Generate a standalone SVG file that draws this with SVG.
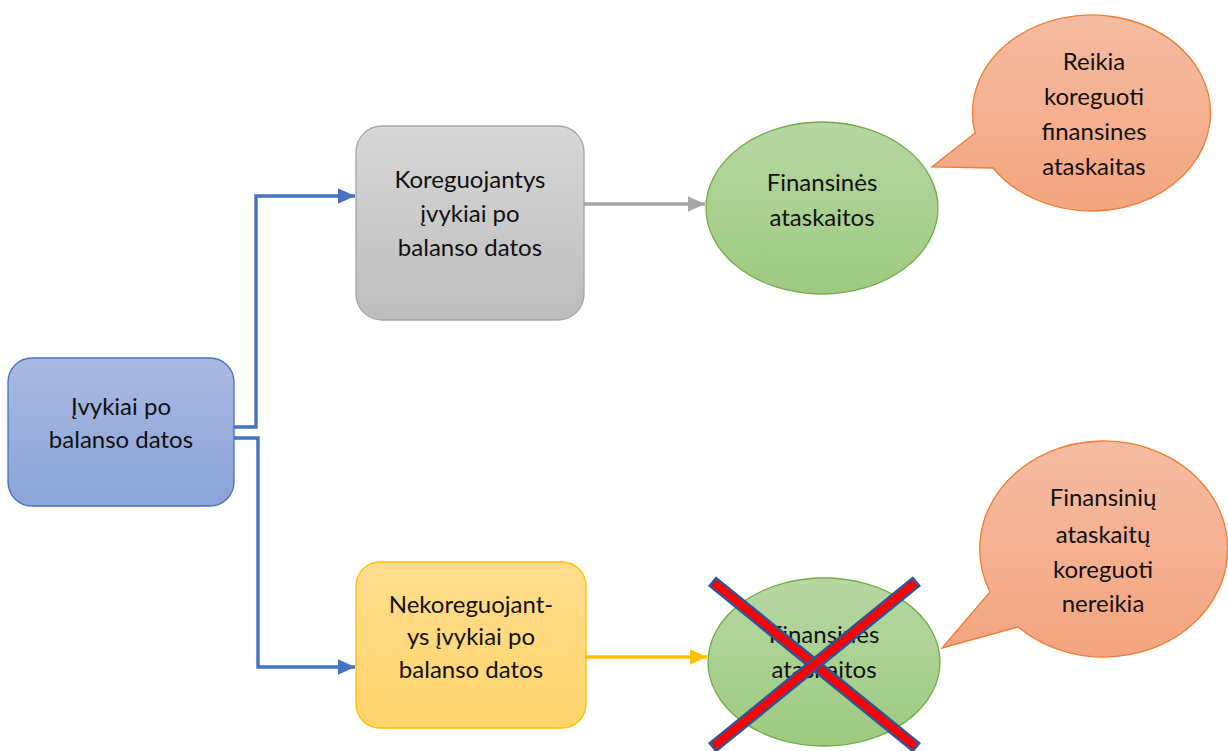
<svg xmlns="http://www.w3.org/2000/svg" width="1228" height="751" viewBox="0 0 1228 751">
  <defs>
    <linearGradient id="gBlue" x1="0" y1="0" x2="0" y2="1">
      <stop offset="0" stop-color="#AAB9E1"/>
      <stop offset="1" stop-color="#8AA3D9"/>
    </linearGradient>
    <linearGradient id="gGray" x1="0" y1="0" x2="0" y2="1">
      <stop offset="0" stop-color="#D7D7D7"/>
      <stop offset="1" stop-color="#BDBDBD"/>
    </linearGradient>
    <linearGradient id="gYellow" x1="0" y1="0" x2="0" y2="1">
      <stop offset="0" stop-color="#FFDD8E"/>
      <stop offset="1" stop-color="#FFD46A"/>
    </linearGradient>
    <linearGradient id="gGreen" x1="0" y1="0" x2="0" y2="1">
      <stop offset="0" stop-color="#B7D7A3"/>
      <stop offset="1" stop-color="#9DCA80"/>
    </linearGradient>
    <linearGradient id="gOrange" x1="0" y1="0" x2="0" y2="1">
      <stop offset="0" stop-color="#F5BCA2"/>
      <stop offset="1" stop-color="#F4A47F"/>
    </linearGradient>
    <marker id="arrBlue" markerWidth="5" markerHeight="4.6" refX="5" refY="2.3" orient="auto" markerUnits="strokeWidth">
      <path d="M0,0 L5,2.3 L0,4.6 Z" fill="#4472C4"/>
    </marker>
    <marker id="arrGray" markerWidth="5" markerHeight="4.6" refX="5" refY="2.3" orient="auto" markerUnits="strokeWidth">
      <path d="M0,0 L5,2.3 L0,4.6 Z" fill="#A5A5A5"/>
    </marker>
    <marker id="arrYellow" markerWidth="5" markerHeight="4.6" refX="5" refY="2.3" orient="auto" markerUnits="strokeWidth">
      <path d="M0,0 L5,2.3 L0,4.6 Z" fill="#FFC000"/>
    </marker>
  </defs>
  <style>
    text { font-family: Lato, "Open Sans", "Liberation Sans", sans-serif; font-size: 24px; fill: #111; text-anchor: middle; }
    .conn { fill: none; stroke-width: 3.4; }
    .cross { fill: #FF0000; stroke: #2F5597; stroke-width: 2.5; stroke-linejoin: miter; }
  </style>
  <rect width="1228" height="751" fill="#FFFFFF"/>

  <g id="connectors">
    <path class="conn" d="M234,427 H256 V196 H355" stroke="#4472C4" marker-end="url(#arrBlue)"/>
    <path class="conn" d="M234,438 H258 V667 H355" stroke="#4472C4" marker-end="url(#arrBlue)"/>
    <path class="conn" d="M584,204 H705" stroke="#A5A5A5" marker-end="url(#arrGray)"/>
    <path class="conn" d="M586,657 H707" stroke="#FFC000" marker-end="url(#arrYellow)"/>
  </g>

  <g id="events">
    <rect x="8" y="358" width="226" height="148" rx="24" fill="url(#gBlue)" stroke="#4472C4" stroke-width="1.3"/>
    <text x="121" y="415">Įvykiai po</text>
    <text x="121" y="448">balanso datos</text>
  </g>

  <g id="adjusting">
    <rect x="356" y="126" width="228" height="194" rx="26" fill="url(#gGray)" stroke="#A5A5A5" stroke-width="1.3"/>
    <text x="470" y="188">Koreguojantys</text>
    <text x="470" y="222">įvykiai po</text>
    <text x="470" y="256">balanso datos</text>
  </g>

  <g id="nonadjusting">
    <rect x="356" y="562" width="230" height="166" rx="24" fill="url(#gYellow)" stroke="#FFC000" stroke-width="1.3"/>
    <text x="471" y="613">Nekoreguojant-</text>
    <text x="471" y="645">ys įvykiai po</text>
    <text x="471" y="678">balanso datos</text>
  </g>

  <g id="statements-top">
    <ellipse cx="822" cy="208" rx="116" ry="86" fill="url(#gGreen)" stroke="#70AD47" stroke-width="1.3"/>
    <text x="822" y="191">Finansinės</text>
    <text x="822" y="226">ataskaitos</text>
  </g>

  <g id="statements-bottom">
    <ellipse cx="824" cy="662" rx="116" ry="84" fill="url(#gGreen)" stroke="#70AD47" stroke-width="1.3"/>
    <text x="824" y="643">Finansinės</text>
    <text x="824" y="678">ataskaitos</text>
    <polygon class="cross" points="716.2,578.1 919.2,743.1 912.8,750.9 709.8,585.9"/>
    <polygon class="cross" points="912.8,578.1 919.2,585.9 716.2,750.9 709.8,743.1"/>
  </g>

  <g id="callout-top">
    <path d="M975,133 A119,98 0 1 1 993,168 L932,167 Z" fill="url(#gOrange)" stroke="#ED7D31" stroke-width="1.3"/>
    <text x="1094" y="70">Reikia</text>
    <text x="1094" y="105">koreguoti</text>
    <text x="1094" y="140">finansines</text>
    <text x="1094" y="175">ataskaitas</text>
  </g>

  <g id="callout-bottom">
    <path d="M990,592 A124,108 0 1 1 1018,627 L942,648 Z" fill="url(#gOrange)" stroke="#ED7D31" stroke-width="1.3"/>
    <text x="1103" y="506">Finansinių</text>
    <text x="1103" y="543">ataskaitų</text>
    <text x="1103" y="578">koreguoti</text>
    <text x="1103" y="612">nereikia</text>
  </g>
</svg>
